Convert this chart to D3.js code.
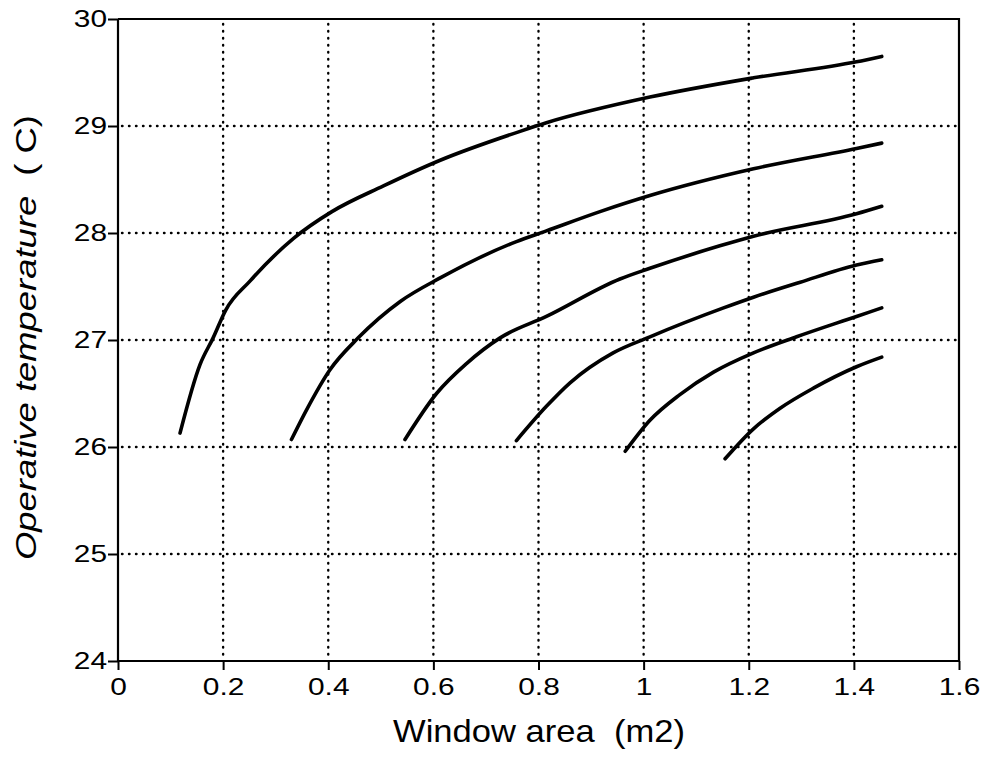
<!DOCTYPE html>
<meta charset="utf-8">
<head>
    <title>Operative temperature vs window area</title>
    <script type="text/javascript" src="https://d3js.org/d3.v7.min.js"></script>
    <style>
        body { margin: 0; background: #fff; }
        text { font-family: "Liberation Sans", Arial, sans-serif; fill: #000; white-space: pre; }
        .grid line { stroke: #000; stroke-width: 2.4; stroke-dasharray: 0.5 6.5; stroke-linecap: round; }
        .curve { fill: none; stroke: #000; stroke-width: 3.6; stroke-linejoin: round; stroke-linecap: round; }
    </style>
</head>
<body>
<script>
    // ticks
    var xTicks = [0, 0.2, 0.4, 0.6, 0.8, 1, 1.2, 1.4, 1.6];
    var yTicks = [24, 25, 26, 27, 28, 29, 30];

    // window area (m2) / operative temperature (C), one pair of arrays per curve
    var area1 = [0.118, 0.156, 0.181, 0.205, 0.251, 0.334, 0.407, 0.505, 0.613, 0.765, 0.815, 1.012, 1.209, 1.405, 1.453];
    var temp1 = [26.13, 26.77, 27.02, 27.28, 27.55, 27.95, 28.20, 28.44, 28.68, 28.95, 29.03, 29.27, 29.45, 29.60, 29.65];

    var area2 = [0.330, 0.359, 0.403, 0.457, 0.537, 0.613, 0.758, 0.815, 0.917, 1.012, 1.209, 1.405, 1.453];
    var temp2 = [26.07, 26.35, 26.72, 27.02, 27.36, 27.58, 27.92, 28.02, 28.20, 28.35, 28.60, 28.79, 28.84];

    var area3 = [0.546, 0.606, 0.663, 0.727, 0.815, 0.955, 1.012, 1.145, 1.209, 1.405, 1.453];
    var temp3 = [26.07, 26.50, 26.78, 27.02, 27.22, 27.57, 27.67, 27.88, 27.97, 28.18, 28.25];

    var area4 = [0.758, 0.815, 0.860, 0.942, 1.012, 1.152, 1.209, 1.298, 1.405, 1.453];
    var temp4 = [26.06, 26.38, 26.60, 26.88, 27.03, 27.30, 27.40, 27.54, 27.70, 27.75];

    var area5 = [0.965, 1.012, 1.069, 1.133, 1.209, 1.291, 1.405, 1.453];
    var temp5 = [25.96, 26.25, 26.49, 26.70, 26.88, 27.03, 27.22, 27.30];

    var area6 = [1.155, 1.209, 1.259, 1.323, 1.405, 1.453];
    var temp6 = [25.89, 26.17, 26.36, 26.55, 26.75, 26.84];

    var curves = [[area1, temp1], [area2, temp2], [area3, temp3],
                  [area4, temp4], [area5, temp5], [area6, temp6]];

    var margin = {top: 19, right: 27, bottom: 101, left: 118},
        width = 986 - margin.left - margin.right,
        height = 762 - margin.top - margin.bottom;

    var svg = d3.select('body').append('svg')
        .attr('width', 986)
        .attr('height', 762);

    var g = svg.append('g')
        .attr('transform', 'translate(' + margin.left + ',' + margin.top + ')');

    var x = d3.scaleLinear().domain([0, 1.6]).range([0, width]);
    var y = d3.scaleLinear().domain([24, 30]).range([height, 0]);

    // dotted grid
    var grid = g.append('g').attr('class', 'grid');
    grid.selectAll('.vx')
        .data(xTicks.slice(1, -1))
        .enter().append('line')
        .attr('x1', d => x(d)).attr('x2', d => x(d))
        .attr('y1', y(30) + 5).attr('y2', y(24));
    grid.selectAll('.hy')
        .data(yTicks.slice(1, -1))
        .enter().append('line')
        .attr('x1', 4).attr('x2', width)
        .attr('y1', d => y(d)).attr('y2', d => y(d));

    // axes
    var stretch = 1.3;
    var xAxis = d3.axisBottom(x).tickValues(xTicks).tickSize(9).tickPadding(9)
        .tickFormat(d3.format('~g'));
    var yAxis = d3.axisLeft(y).tickValues(yTicks).tickSize(10).tickPadding(1)
        .tickFormat(d3.format('d'));

    var gx = g.append('g')
        .attr('transform', 'translate(0,' + height + ')')
        .call(xAxis);
    var gy = g.append('g').call(yAxis);

    [gx, gy].forEach(function(a) {
        a.attr('font-size', null).attr('font-family', null);
        a.select('.domain').attr('stroke', '#000').attr('stroke-width', 2.2);
        a.selectAll('.tick line').attr('stroke', '#000').attr('stroke-width', 2);
        a.selectAll('.tick text')
            .style('font-size', '23px')
            .attr('fill', '#000');
    });
    gx.selectAll('.tick text').attr('transform', 'scale(' + stretch + ',1)');
    gy.selectAll('.tick text')
        .attr('x', -11 / stretch)
        .attr('transform', 'scale(' + stretch + ',1)');
    gx.select('.domain').attr('d', 'M0,0H' + width);
    gy.select('.domain').attr('d', 'M0,0V' + height);

    // top and right frame
    g.append('path')
        .attr('d', 'M0,' + y(30) + 'H' + x(1.6) + 'V' + y(24))
        .attr('fill', 'none')
        .attr('stroke', '#000')
        .attr('stroke-width', 2.2);

    // curves
    var line = d3.line()
        .x(d => x(d[0]))
        .y(d => y(d[1]))
        .curve(d3.curveMonotoneX);

    g.selectAll('.curve')
        .data(curves.map(c => c[0].map((a, i) => [a, c[1][i]])))
        .enter().append('path')
        .attr('class', 'curve')
        .attr('d', line);

    // axis titles
    svg.append('text')
        .attr('x', 393)
        .attr('y', 742)
        .attr('textLength', 292)
        .attr('lengthAdjust', 'spacingAndGlyphs')
        .style('font-size', '32px')
        .text('Window area  (m2)');

    var yl = svg.append('text')
        .attr('transform', 'translate(36,560) rotate(-90)')
        .attr('textLength', 445)
        .attr('lengthAdjust', 'spacingAndGlyphs')
        .style('font-size', '30px');
    yl.append('tspan').style('font-style', 'italic').text('Operative temperature');
    yl.append('tspan').text('  ( C)');
</script>
</body>
</html>
